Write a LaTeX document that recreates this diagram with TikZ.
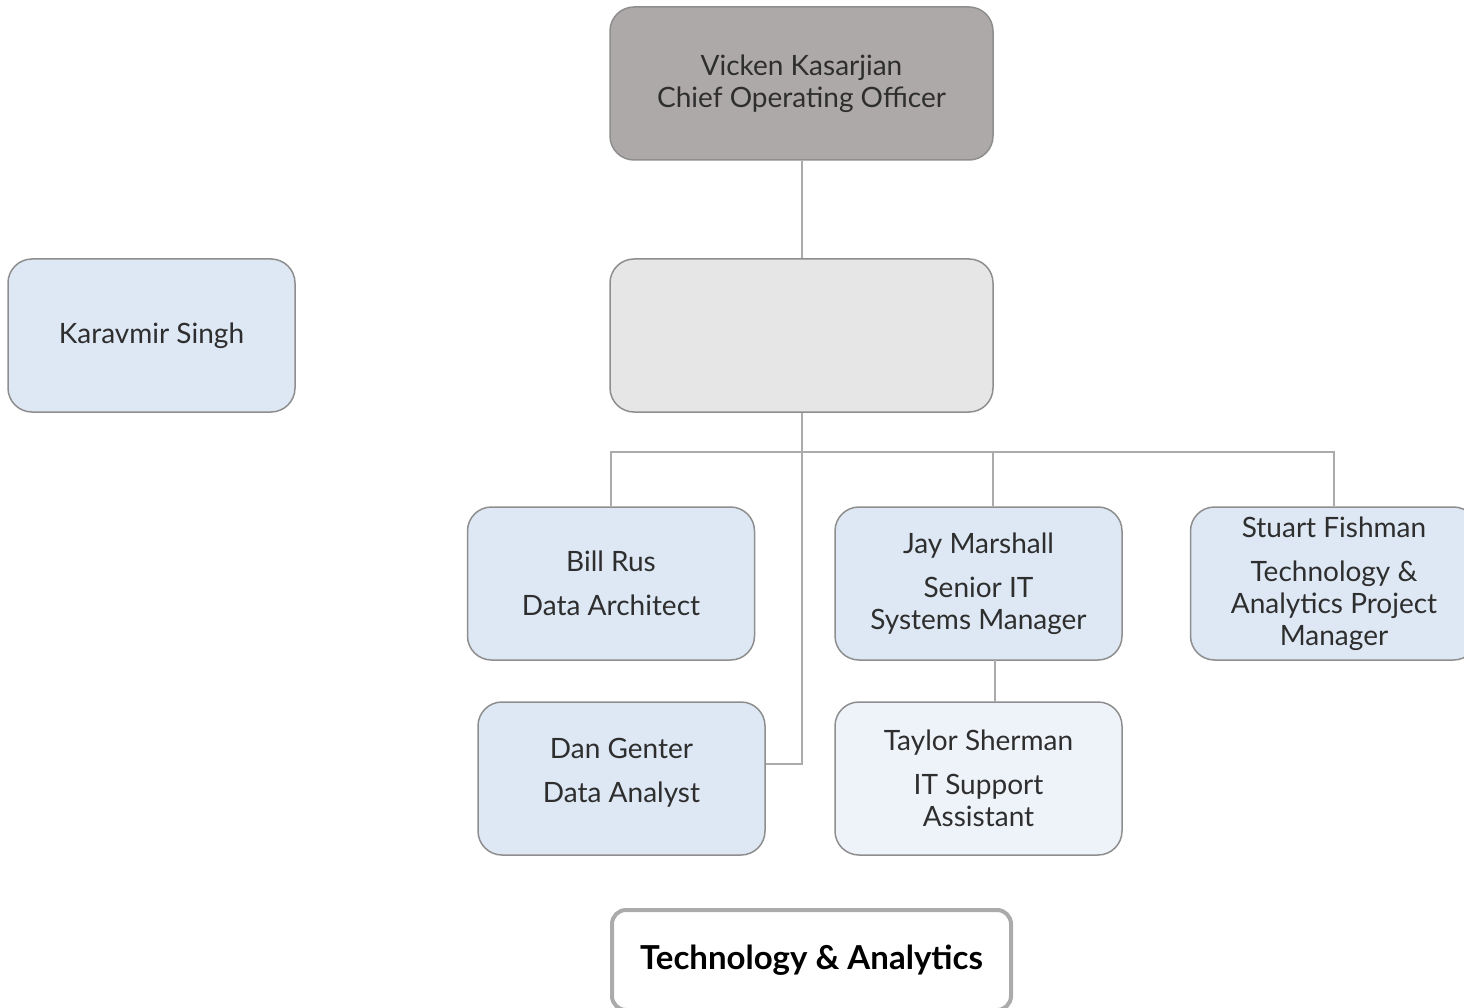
\documentclass[tikz,border=0pt]{standalone}
\usepackage{fontspec}
\setmainfont{Lato}
\definecolor{cooFill}{HTML}{ADA9A8}
\definecolor{blankFill}{HTML}{E6E6E6}
\definecolor{staffFill}{HTML}{DDE8F4}
\definecolor{assistFill}{HTML}{EEF3FA}
\definecolor{boxLine}{HTML}{8E8E8E}
\definecolor{linkLine}{HTML}{ABABAB}
\definecolor{ink}{HTML}{2E2E2E}
\tikzset{
  orgbox/.style={draw=boxLine, line width=1.5pt, rounded corners=24pt,
    minimum width=287pt, minimum height=153pt, inner sep=0pt,
    align=center, text=ink, font=\fontsize{28}{32}\selectfont},
  link/.style={draw=linkLine, line width=2pt},
  titlebox/.style={draw=linkLine, line width=4pt, rounded corners=14pt,
    fill=white, minimum width=399pt, minimum height=100pt, inner sep=0pt,
    text=black, font=\bfseries\fontsize{33}{36}\selectfont}
}
\begin{document}
\begin{tikzpicture}[x=1pt,y=-1pt]
\useasboundingbox[fill=white] (0,0) rectangle (1464,1008);

% executive and vacant position
\node[orgbox, fill=cooFill, minimum width=383pt] (coo) at (801.5,83.5)
  {Vicken Kasarjian\\Chief Operating Officer};
\node[orgbox, fill=blankFill, minimum width=383pt] (vacant) at (801.5,335.5) {};
\node[orgbox, fill=staffFill] (singh) at (151.5,335.5) {Karavmir Singh};

% direct reports
\node[orgbox, fill=staffFill] (rus) at (611,583.5)
  {Bill Rus\\[12pt]Data Architect};
\node[orgbox, fill=staffFill] (marshall) at (978.5,583.5)
  {Jay Marshall\\[12pt]Senior IT\\Systems Manager};
\node[orgbox, fill=staffFill] (fishman) at (1334,583.5)
  {Stuart Fishman\\[12pt]Technology \&\\Analytics Project\\Manager};
\node[orgbox, fill=staffFill] (genter) at (621.5,778.5)
  {Dan Genter\\[12pt]Data Analyst\\[-16pt]\mbox{}};
\node[orgbox, fill=assistFill] (sherman) at (978.5,778.5)
  {Taylor Sherman\\[12pt]IT Support\\Assistant};

% department label
\node[titlebox] (dept) at (811.5,960) {Technology \& Analytics};

% reporting lines
\coordinate (bus) at (801.5,452);
\path[link] (coo.south) -- (vacant.north);
\path[link] (vacant.south) -- (bus);
\path[link] (bus) -- (611,452) -- (rus.north);
\path[link] (bus) -- (993,452) -- (993,507);
\path[link] (993,452) -- (1334,452) -- (fishman.north);
\path[link] (bus) -- (801.5,764) -- (genter.east |- 0,764);
\path[link] (995,660) -- (995,702);
\end{tikzpicture}
\end{document}
